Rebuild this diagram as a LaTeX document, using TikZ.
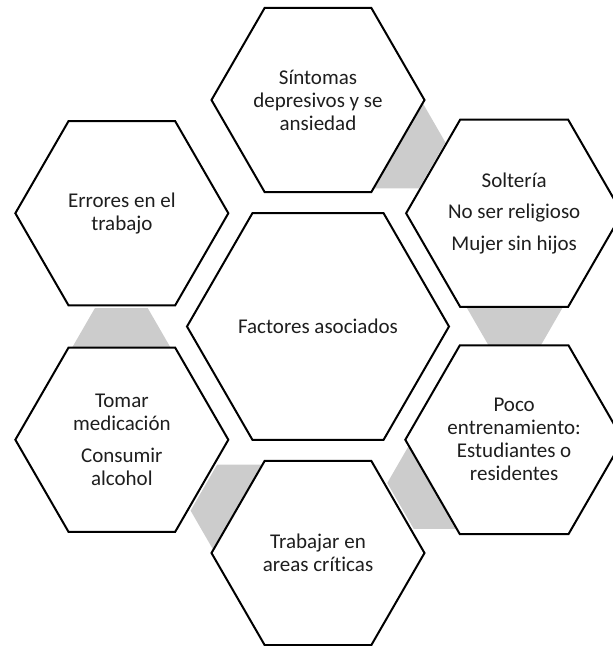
\documentclass[tikz,border=0pt]{standalone}
\usepackage{fontspec}
\setmainfont{Carlito}[Ligatures=NoCommon]
\usetikzlibrary{shapes.geometric}
\definecolor{linkgray}{RGB}{204,204,204}
\definecolor{inkgray}{RGB}{30,30,30}

\begin{document}
\begin{tikzpicture}[
 x=1pt,y=1pt,
 every node/.style={font=\fontsize{21}{23}\selectfont,align=center,inner sep=0pt,text=inkgray},
 hexbase/.style={regular polygon,regular polygon sides=6},
 core/.style={hexbase,draw=black,fill=white,line width=2pt,minimum size=262pt},
 factor/.style={hexbase,draw=black,fill=white,line width=2pt,minimum size=213pt},
 link/.style={hexbase,fill=linkgray,minimum size=106pt}
]
\useasboundingbox (-318,-319.5) rectangle (295,326.5);
\clip (-318,-319.5) rectangle (295,326.5);
% gray links behind the outer ring
\node[link] (l1) at (68:198.6) {};
\node[link] (l2) at (8:198.6) {};
\node[link] (l3) at (-52:198.6) {};
\node[link] (l4) at (-112:198.6) {};
\node[link] (l5) at (-172:198.6) {};
\node[factor] (sin) at (90:226.5) {Síntomas\\depresivos y se\\ansiedad};
\node[factor] (sol) at (30:226.5) {Soltería\\[8.5pt]No ser religioso\\[8.5pt]Mujer sin hijos};
\node[factor] (poc) at (-30:226.5) {Poco\\entrenamiento:\\Estudiantes o\\residentes};
\node[factor] (tra) at (-90:226.5) {Trabajar en\\areas críticas};
\node[factor] (tom) at (-150:226.5) {Tomar\\medicación\\[9pt]Consumir\\alcohol};
\node[factor] (err) at (150:226.5) {Errores en el\\trabajo};
\node[core] (ctr) at (0,0) {Factores asociados};
\end{tikzpicture}
\end{document}
